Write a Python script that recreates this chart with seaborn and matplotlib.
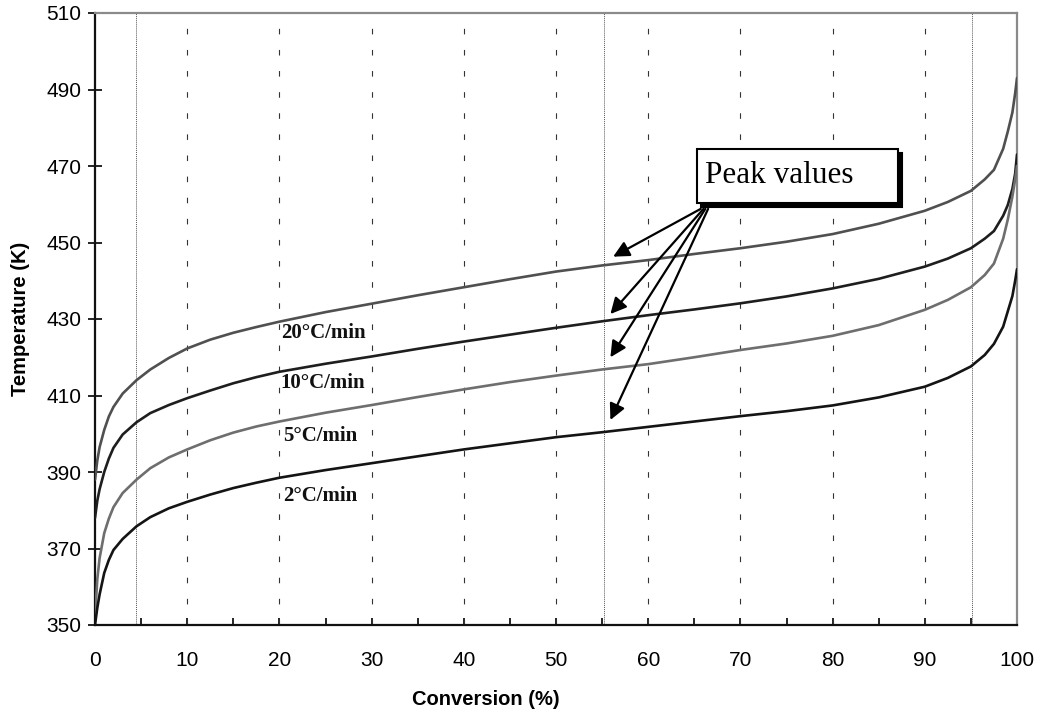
import numpy as np
import pandas as pd
import matplotlib
matplotlib.use("Agg")
import matplotlib.pyplot as plt
import seaborn as sns
from matplotlib.patches import Rectangle
import matplotlib.transforms as mtransforms

# ---------------- data ----------------
conversion = [0, 0.25, 0.5, 1, 1.5, 2, 3, 4.5, 6, 8, 10, 12.5, 15, 17.5, 20, 25, 30, 35, 40, 45,
              50, 55, 60, 65, 70, 75, 80, 85, 90, 92.5, 95, 96.5, 97.5, 98.5, 99, 99.5, 99.8, 100]
temp_20 = [388, 393, 396.5, 401, 404.5, 407, 410.5, 414, 416.8, 419.8, 422.3, 424.6, 426.4, 427.9,
           429.3, 431.8, 434, 436.2, 438.3, 440.4, 442.4, 444, 445.4, 447, 448.5, 450.2, 452.2,
           454.9, 458.3, 460.6, 463.5, 466.5, 469, 474.5, 479, 484, 489, 493]
temp_10 = [378, 382.5, 385.5, 390, 393.5, 396.3, 399.8, 403, 405.4, 407.5, 409.3, 411.3, 413.2, 414.8,
           416.2, 418.3, 420.2, 422.2, 424.1, 425.9, 427.7, 429.4, 431, 432.5, 434.1, 435.9, 438,
           440.5, 443.7, 445.8, 448.5, 451, 453, 457, 459.8, 464, 468, 473]
temp_5 = [352, 362, 367.5, 374, 377.8, 380.8, 384.5, 388, 391, 393.8, 395.9, 398.3, 400.3, 401.9,
          403.2, 405.5, 407.5, 409.6, 411.6, 413.5, 415.2, 416.8, 418.2, 420, 421.9, 423.6, 425.6,
          428.4, 432.4, 435, 438.3, 441.5, 444.5, 451, 456, 462, 466.5, 470]
temp_2 = [350, 354.5, 358, 363.6, 367, 369.6, 372.5, 375.8, 378.2, 380.5, 382.2, 384.1, 385.8, 387.2,
          388.5, 390.5, 392.3, 394.1, 395.9, 397.5, 399.1, 400.4, 401.8, 403.2, 404.6, 405.9, 407.4,
          409.5, 412.3, 414.6, 417.6, 420.6, 423.5, 428, 432, 436, 440, 443]
rates = ["20", "10", "5", "2"]
rate_labels = ["20°C/min", "10°C/min", "5°C/min", "2°C/min"]
label_pos_x = [20.2, 20.1, 20.4, 20.4]
label_pos_y = [426.3, 413.3, 399.4, 383.7]
peak_x = [56.2, 55.9, 55.9, 55.9]
peak_y = [446.3, 431.3, 420.0, 403.6]
dotted_x = [4.5, 55.2, 95.1]
x_ticks = list(range(0, 101, 10))
y_ticks = list(range(350, 511, 20))

series = {"20": temp_20, "10": temp_10, "5": temp_5, "2": temp_2}
df = pd.concat([pd.DataFrame({"conv": conversion, "temp": v, "rate": k}) for k, v in series.items()],
               ignore_index=True)

# ---------------- style ----------------
sns.set_theme(style="white")
plt.rcParams["font.family"] = ["Liberation Sans", "DejaVu Sans"]

fig = plt.figure(figsize=(10.4, 7.17), dpi=100)
ax = fig.add_axes([95 / 1040, 1 - 625 / 717, 922 / 1040, 612 / 717])

palette = {"20": "#505050", "10": "#1e1e1e", "5": "#6e6e6e", "2": "#141414"}
sns.lineplot(data=df, x="conv", y="temp", hue="rate", hue_order=rates, palette=palette,
             estimator=None, sort=False, legend=False, lw=1.9, ax=ax, zorder=3)
for ln in ax.get_lines():
    ln.set_solid_joinstyle("round")

# grid lines
for xv in x_ticks[1:-1]:
    ax.axvline(xv, color="#333333", lw=0.8, dashes=(5, 14), zorder=1)
for xv in dotted_x:
    ax.axvline(xv, color="#555555", lw=0.7, dashes=(1, 1), zorder=1)

ax.set_xlim(0, 100)
ax.set_ylim(350, 510)
ax.set_xticks(x_ticks)
ax.set_xticks(list(range(5, 100, 10)), minor=True)
ax.set_yticks(y_ticks)

ax.tick_params(axis="y", which="major", direction="inout", length=10, width=1.2, color="black",
               labelsize=15, pad=5, left=True)
ax.tick_params(axis="x", which="major", direction="in", length=5, width=1.2, color="black",
               labelsize=15, pad=19, bottom=True)
ax.tick_params(axis="x", which="minor", direction="in", length=5, width=1.2, color="black", bottom=True)
for lab in ax.get_xticklabels() + ax.get_yticklabels():
    lab.set_color("black")

for side in ["left", "bottom"]:
    ax.spines[side].set_color("#111111")
    ax.spines[side].set_linewidth(1.6)
for side in ["top", "right"]:
    ax.spines[side].set_color("#8a8a8a")
    ax.spines[side].set_linewidth(1.6)

ax.set_xlabel("Conversion (%)", fontsize=14.5, fontweight="bold", color="black")
ax.set_ylabel("Temperature (K)", fontsize=14.5, fontweight="bold", color="black")
ax.xaxis.set_label_coords(0.4244, -0.106)
ax.yaxis.set_label_coords(-0.071, 0.5)

# curve labels
for lx, ly, txt in zip(label_pos_x, label_pos_y, rate_labels):
    ax.text(lx, ly, txt, family=["Liberation Serif", "DejaVu Serif"], fontweight="bold",
            fontsize=15, va="center", ha="left", color="#111111", zorder=4)

# Peak values box with shadow
bx0, bx1, by0, by1 = 65.3, 87.1, 460.2, 474.4
shadow_tr = mtransforms.offset_copy(ax.transData, fig=fig, x=4, y=-4, units="dots")
ax.add_patch(Rectangle((bx0, by0), bx1 - bx0, by1 - by0, transform=shadow_tr,
                       fc="black", ec="black", lw=1.5, zorder=5, clip_on=False))
ax.add_patch(Rectangle((bx0, by0), bx1 - bx0, by1 - by0, fc="white", ec="black",
                       lw=1.5, zorder=6, clip_on=False))
ax.text(66.2, 467.6, "Peak values", family=["Liberation Serif", "DejaVu Serif"],
        fontsize=22.5, va="center", ha="left", color="black", zorder=7)

start_x = [65.7, 66.0, 66.2, 66.5]
for sx, px, py in zip(start_x, peak_x, peak_y):
    ax.annotate("", xy=(px, py), xytext=(sx, 458.8),
                arrowprops=dict(arrowstyle="-|>", mutation_scale=24, lw=1.6,
                                color="black", shrinkA=0, shrinkB=0), zorder=8)

fig.savefig("out.png", dpi=100)
